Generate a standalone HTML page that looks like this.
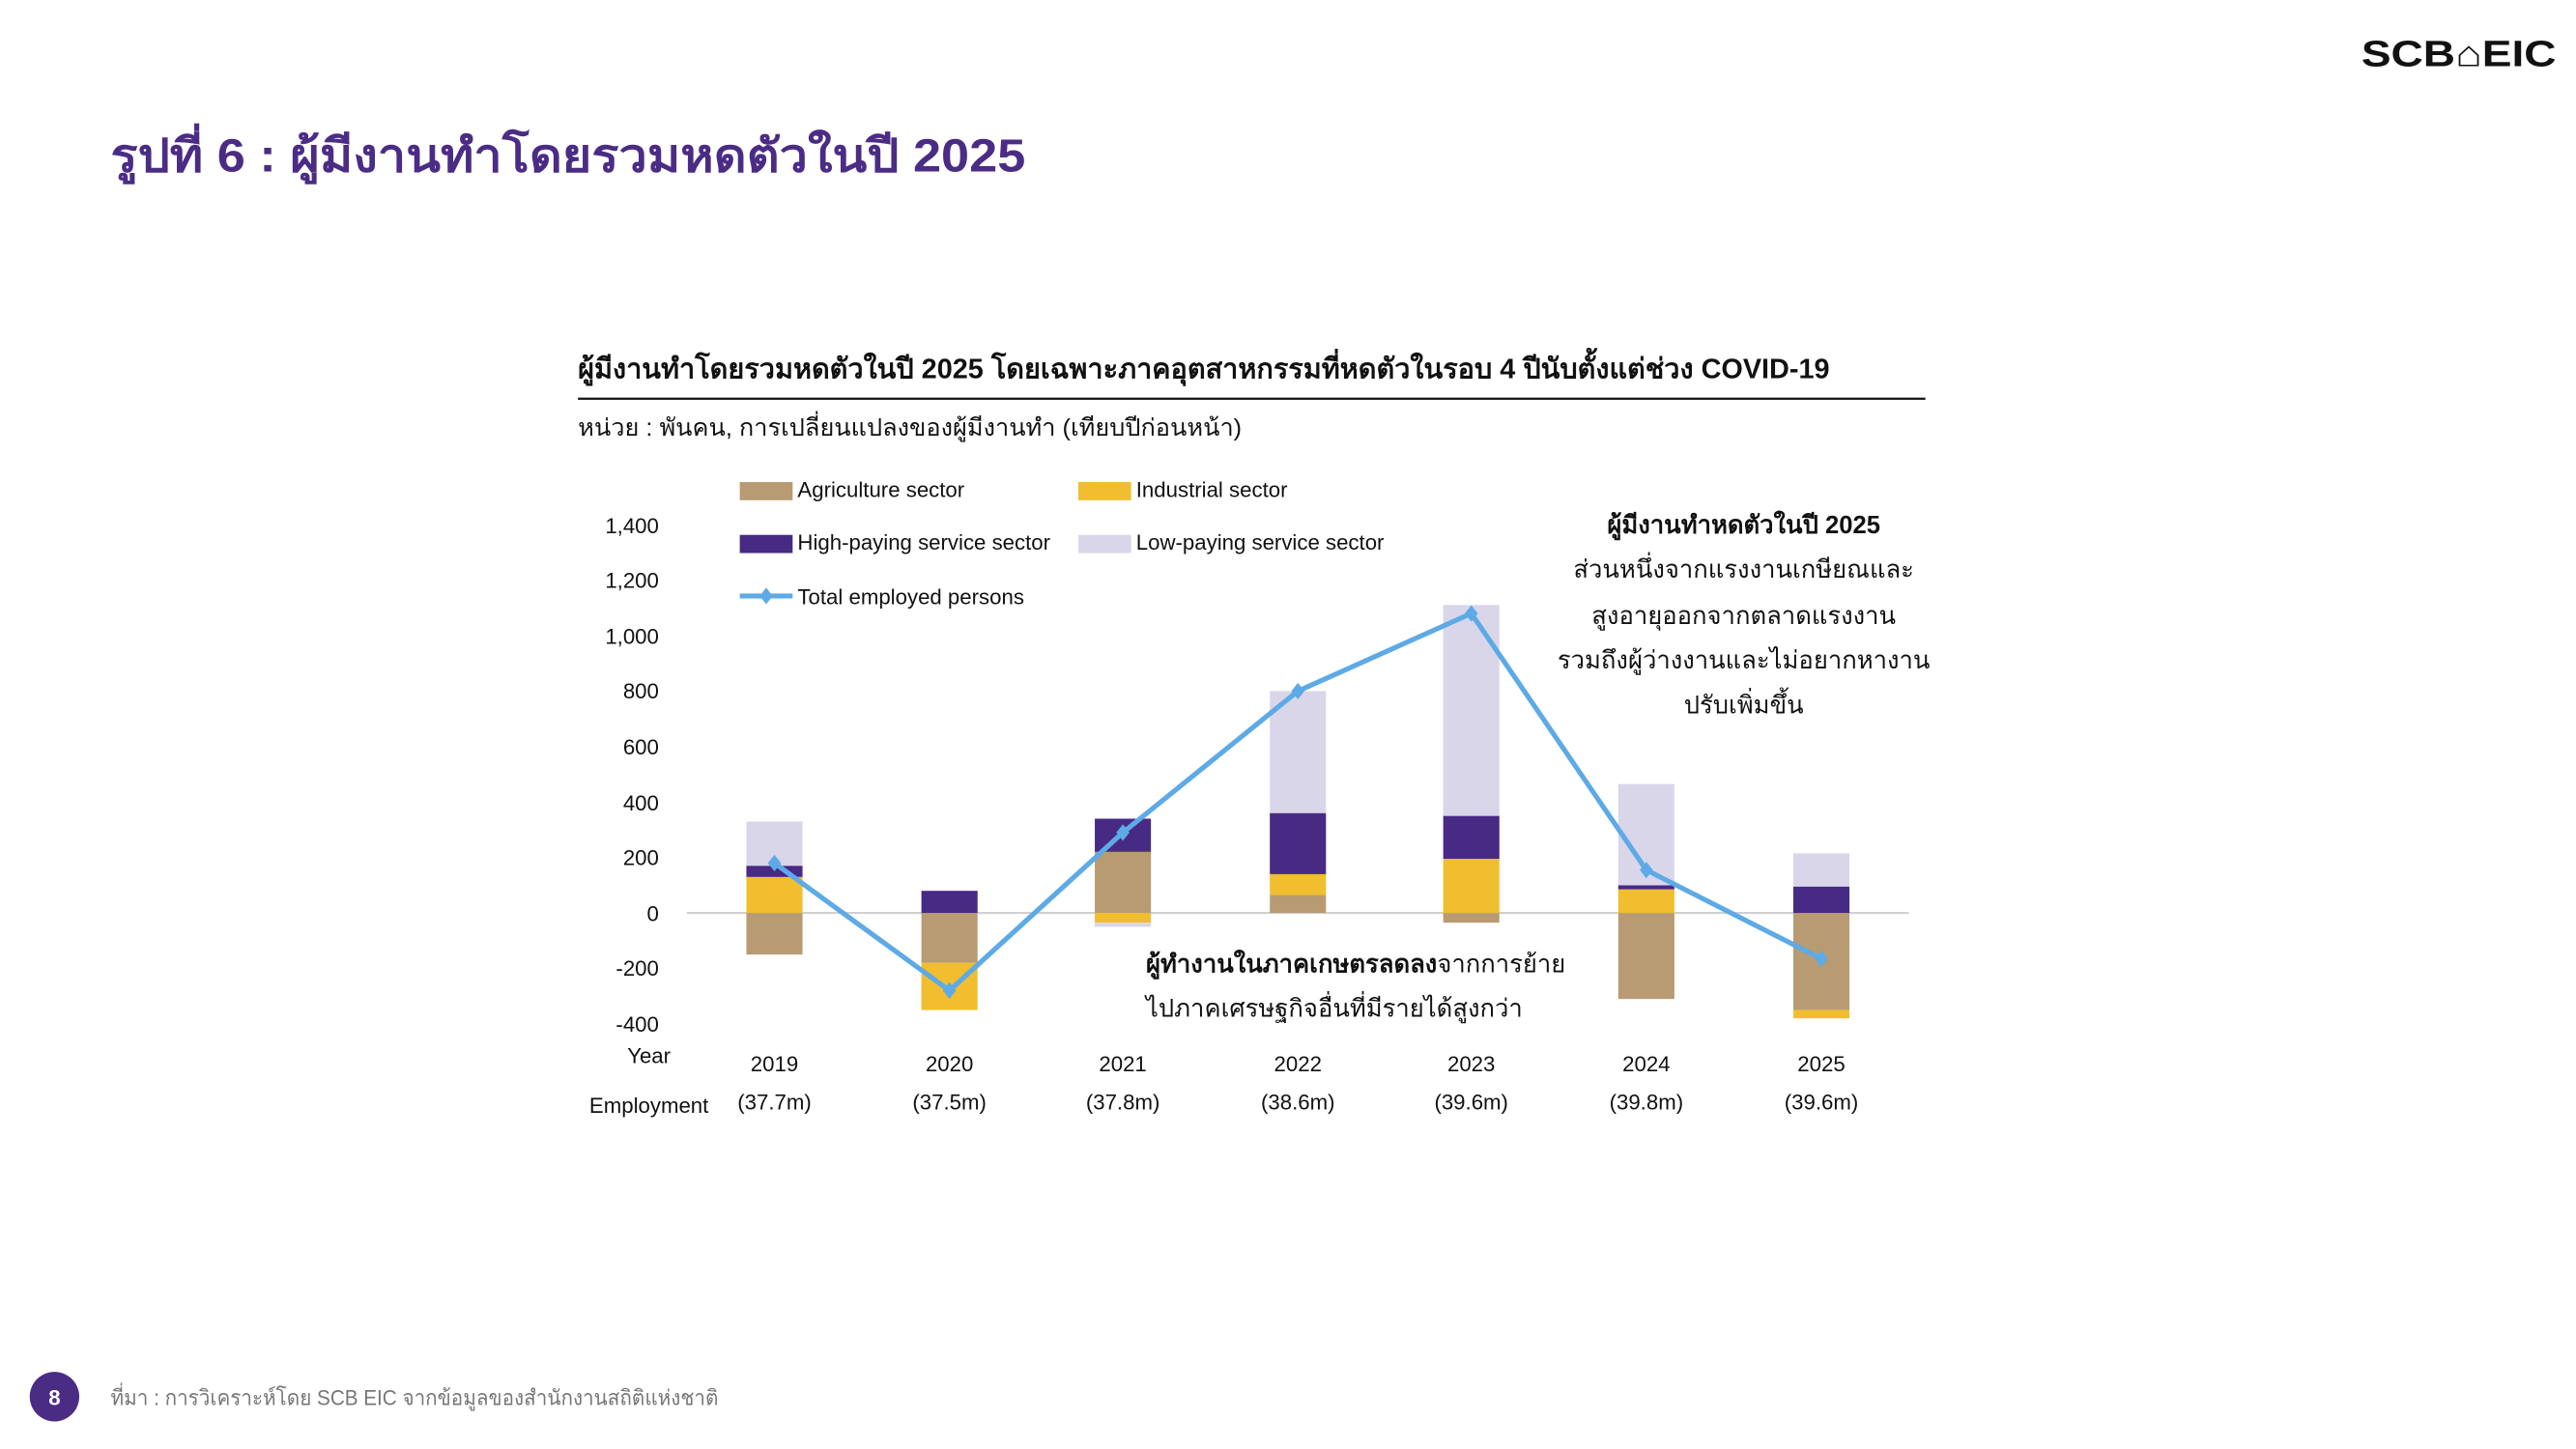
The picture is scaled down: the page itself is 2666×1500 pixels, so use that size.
<!DOCTYPE html>
<html><head><meta charset="utf-8"><style>
html,body{margin:0;padding:0;background:#fff;}
svg{display:block;}
text{font-family:"Liberation Sans","Noto Sans CJK SC",sans-serif;}
</style></head><body>
<svg width="2666" height="1500" viewBox="0 0 1560 877.7" xmlns="http://www.w3.org/2000/svg">
<rect width="1560" height="877.7" fill="#fff"/>
<text x="1430" y="40" font-size="22" font-weight="bold" fill="#111" textLength="118" lengthAdjust="spacingAndGlyphs">SCB⌂EIC</text>
<text x="67" y="104" font-size="28" font-weight="bold" fill="#4B2C85" textLength="554" lengthAdjust="spacingAndGlyphs">รูปที่ 6 : ผู้มีงานทำโดยรวมหดตัวในปี 2025</text>

<text x="350" y="229" font-size="17" font-weight="bold" fill="#111" textLength="758" lengthAdjust="spacingAndGlyphs">ผู้มีงานทำโดยรวมหดตัวในปี 2025 โดยเฉพาะภาคอุตสาหกรรมที่หดตัวในรอบ 4 ปีนับตั้งแต่ช่วง COVID-19</text>
<line x1="350" y1="241.5" x2="1166" y2="241.5" stroke="#111" stroke-width="1.3"/>
<text x="350" y="264" font-size="14.5" fill="#111" textLength="402" lengthAdjust="spacingAndGlyphs">หน่วย : พันคน, การเปลี่ยนแปลงของผู้มีงานทำ (เทียบปีก่อนหน้า)</text>

<!-- legend -->
<g font-size="13" fill="#111">
<rect x="448" y="292" width="32" height="11" fill="#B89B72"/><text x="483" y="301">Agriculture sector</text>
<rect x="653" y="292" width="32" height="11" fill="#F0BE2E"/><text x="688" y="301">Industrial sector</text>
<rect x="448" y="324" width="32" height="11" fill="#472A84"/><text x="483" y="333">High-paying service sector</text>
<rect x="653" y="324" width="32" height="11" fill="#D9D6EA"/><text x="688" y="333">Low-paying service sector</text>
<line x1="448" y1="361" x2="480" y2="361" stroke="#5DAAE6" stroke-width="3"/>
<path d="M464 356 L468 361 L464 366 L460 361Z" fill="#5DAAE6"/>
<text x="483" y="366">Total employed persons</text>
</g>

<!-- y axis labels -->
<g font-size="13" fill="#111" text-anchor="end">
<text x="399" y="323">1,400</text>
<text x="399" y="356">1,200</text>
<text x="399" y="390">1,000</text>
<text x="399" y="423">800</text>
<text x="399" y="457">600</text>
<text x="399" y="491">400</text>
<text x="399" y="524">200</text>
<text x="399" y="558">0</text>
<text x="399" y="591">-200</text>
<text x="399" y="625">-400</text>
</g>

<line x1="416" y1="553" x2="1156" y2="553" stroke="#d0d0d0" stroke-width="1.2"/>

<!-- bars -->
<g>
<rect x="452" y="553" width="34" height="25.2" fill="#B89B72"/>
<rect x="452" y="531.2" width="34" height="21.8" fill="#F0BE2E"/>
<rect x="452" y="524.4" width="34" height="6.8" fill="#472A84"/>
<rect x="452" y="497.6" width="34" height="26.8" fill="#D9D6EA"/>

<rect x="558" y="553" width="34" height="30.2" fill="#B89B72"/>
<rect x="558" y="583.2" width="34" height="28.6" fill="#F0BE2E"/>
<rect x="558" y="539.6" width="34" height="13.4" fill="#472A84"/>

<rect x="663" y="516" width="34" height="37" fill="#B89B72"/>
<rect x="663" y="495.9" width="34" height="20.1" fill="#472A84"/>
<rect x="663" y="553" width="34" height="5.9" fill="#F0BE2E"/>
<rect x="663" y="558.9" width="34" height="2.5" fill="#D9D6EA"/>

<rect x="769" y="542.1" width="34" height="10.9" fill="#B89B72"/>
<rect x="769" y="529.5" width="34" height="12.6" fill="#F0BE2E"/>
<rect x="769" y="492.5" width="34" height="37" fill="#472A84"/>
<rect x="769" y="418.6" width="34" height="73.9" fill="#D9D6EA"/>

<rect x="874" y="553" width="34" height="5.9" fill="#B89B72"/>
<rect x="874" y="520.2" width="34" height="32.8" fill="#F0BE2E"/>
<rect x="874" y="494.2" width="34" height="26" fill="#472A84"/>
<rect x="874" y="366.5" width="34" height="127.7" fill="#D9D6EA"/>

<rect x="980" y="553" width="34" height="52.1" fill="#B89B72"/>
<rect x="980" y="538.7" width="34" height="14.3" fill="#F0BE2E"/>
<rect x="980" y="536.2" width="34" height="2.5" fill="#472A84"/>
<rect x="980" y="474.9" width="34" height="61.3" fill="#D9D6EA"/>

<rect x="1086" y="553" width="34" height="58.8" fill="#B89B72"/>
<rect x="1086" y="611.8" width="34" height="5" fill="#F0BE2E"/>
<rect x="1086" y="537" width="34" height="16" fill="#472A84"/>
<rect x="1086" y="516.9" width="34" height="20.1" fill="#D9D6EA"/>
</g>

<!-- line -->
<polyline points="469,522.8 575,600 680,504.3 786,418.6 891,371.6 997,527 1103,580.7" fill="none" stroke="#5DAAE6" stroke-width="3" stroke-linejoin="round"/>
<g fill="#5DAAE6">
<path d="M469 517.8 L473 522.8 L469 527.8 L465 522.8Z"/>
<path d="M575 595 L579 600 L575 605 L571 600Z"/>
<path d="M680 499.3 L684 504.3 L680 509.3 L676 504.3Z"/>
<path d="M786 413.6 L790 418.6 L786 423.6 L782 418.6Z"/>
<path d="M891 366.6 L895 371.6 L891 376.6 L887 371.6Z"/>
<path d="M997 522 L1001 527 L997 532 L993 527Z"/>
<path d="M1103 575.7 L1107 580.7 L1103 585.7 L1099 580.7Z"/>
</g>

<!-- x labels -->
<g font-size="13" fill="#111" text-anchor="middle">
<text x="393" y="644">Year</text>
<text x="469" y="649">2019</text><text x="575" y="649">2020</text><text x="680" y="649">2021</text>
<text x="786" y="649">2022</text><text x="891" y="649">2023</text><text x="997" y="649">2024</text><text x="1103" y="649">2025</text>
<text x="393" y="674">Employment</text>
<text x="469" y="672">(37.7m)</text><text x="575" y="672">(37.5m)</text><text x="680" y="672">(37.8m)</text>
<text x="786" y="672">(38.6m)</text><text x="891" y="672">(39.6m)</text><text x="997" y="672">(39.8m)</text><text x="1103" y="672">(39.6m)</text>
</g>

<!-- annotations -->
<g font-size="15" fill="#111" text-anchor="middle">
<text x="1056" y="323" font-weight="bold">ผู้มีงานทำหดตัวในปี 2025</text>
<text x="1056" y="350">ส่วนหนึ่งจากแรงงานเกษียณและ</text>
<text x="1056" y="378">สูงอายุออกจากตลาดแรงงาน</text>
<text x="1056" y="405">รวมถึงผู้ว่างงานและไม่อยากหางาน</text>
<text x="1056" y="432">ปรับเพิ่มขึ้น</text>
</g>
<g font-size="15" fill="#111">
<text x="694" y="589"><tspan font-weight="bold">ผู้ทำงานในภาคเกษตรลดลง</tspan>จากการย้าย</text>
<text x="694" y="616">ไปภาคเศรษฐกิจอื่นที่มีรายได้สูงกว่า</text>
</g>

<!-- footer -->
<circle cx="33" cy="846" r="15" fill="#4B2C85"/>
<text x="33" y="851" font-size="13" font-weight="bold" fill="#fff" text-anchor="middle">8</text>
<text x="67" y="851" font-size="13" fill="#777" textLength="368" lengthAdjust="spacingAndGlyphs">ที่มา : การวิเคราะห์โดย SCB EIC จากข้อมูลของสำนักงานสถิติแห่งชาติ</text>
</svg>
</body></html>
